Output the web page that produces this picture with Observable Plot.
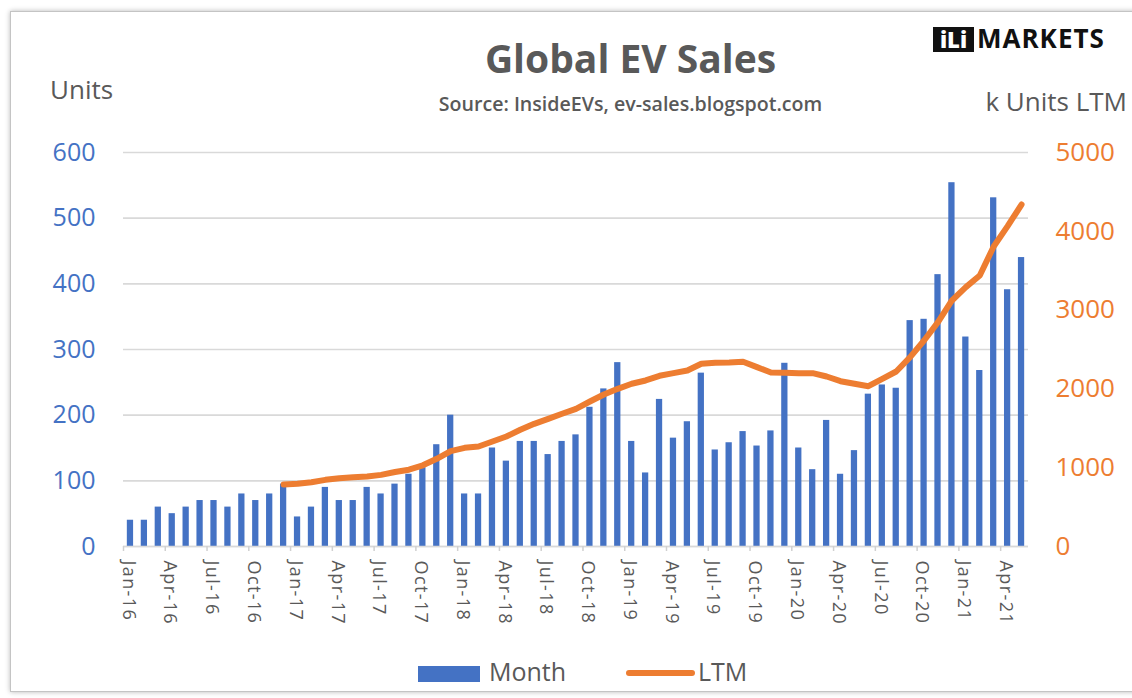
<!DOCTYPE html>
<html>
<head>
<meta charset="utf-8">
<script src="https://cdn.jsdelivr.net/npm/d3@7"></script>
<script src="https://cdn.jsdelivr.net/npm/@observablehq/plot@0.6"></script>
<style>
  body { margin: 0; background: #fff; font-family: "Open Sans", sans-serif; }
  #wrap { position: relative; width: 1132px; height: 698px; overflow: hidden; background: #fff; }
  #frame { position: absolute; left: 10px; top: 11px; width: 1140px; height: 679px; border: 1px solid #c4c4c4; box-shadow: 0 0 5px rgba(0,0,0,0.28); background: #fff; }
  .t { position: absolute; white-space: nowrap; color: #595959; line-height: 1; font-family: "Open Sans", sans-serif; }
  #chart { position: absolute; left: 0; top: 0; }
  .ev g[aria-label="x-axis tick label"] text { letter-spacing: 1.4px; }
</style>
</head>
<body>
<div id="wrap">
  <div id="frame"></div>
  <div id="chart"></div>
  <div class="t" style="left:0;width:1261px;text-align:center;top:38px;font-size:39px;font-weight:700;">Global EV Sales</div>
  <div class="t" style="left:0;width:1261px;text-align:center;top:94px;font-size:19.6px;font-weight:600;">Source: InsideEVs, ev-sales.blogspot.com</div>
  <div class="t" style="left:50px;top:76px;font-size:26px;font-weight:400;">Units</div>
  <div class="t" style="right:5px;top:88px;font-size:26px;font-weight:400;">k Units LTM</div>
  <div class="t" style="left:933px;top:27px;width:41px;height:25px;background:#111;color:#fff;font-size:22px;font-weight:800;text-align:center;line-height:25px;">iLi</div>
  <div class="t" style="left:977px;top:25px;font-size:26px;font-weight:700;color:#111;letter-spacing:1px;">MARKETS</div>
  <div style="position:absolute;left:418px;top:666px;width:62px;height:16px;background:#4472C4;"></div>
  <div class="t" style="left:489px;top:659px;font-size:25px;">Month</div>
  <div style="position:absolute;left:626px;top:670px;width:69px;height:6px;border-radius:3px;background:#ED7D31;"></div>
  <div class="t" style="left:698px;top:659px;font-size:25px;">LTM</div>
</div>
<script>
const months = [
  "Jan-16","Feb-16","Mar-16","Apr-16","May-16","Jun-16","Jul-16","Aug-16","Sep-16","Oct-16","Nov-16","Dec-16",
  "Jan-17","Feb-17","Mar-17","Apr-17","May-17","Jun-17","Jul-17","Aug-17","Sep-17","Oct-17","Nov-17","Dec-17",
  "Jan-18","Feb-18","Mar-18","Apr-18","May-18","Jun-18","Jul-18","Aug-18","Sep-18","Oct-18","Nov-18","Dec-18",
  "Jan-19","Feb-19","Mar-19","Apr-19","May-19","Jun-19","Jul-19","Aug-19","Sep-19","Oct-19","Nov-19","Dec-19",
  "Jan-20","Feb-20","Mar-20","Apr-20","May-20","Jun-20","Jul-20","Aug-20","Sep-20","Oct-20","Nov-20","Dec-20",
  "Jan-21","Feb-21","Mar-21","Apr-21","May-21"
];
// monthly sales, thousand units
const monthly = [
  40, 40, 60, 50, 60, 70, 70, 60, 80, 70, 80, 95,
  45, 60, 90, 70, 70, 90, 80, 95, 110, 120, 155, 200,
  80, 80, 150, 130, 160, 160, 140, 160, 170, 212, 240, 280,
  160, 112, 224, 165, 190, 264, 147, 158, 175, 153, 176, 279,
  150, 117, 192, 110, 146, 232, 246, 241, 344, 346, 414, 554,
  319, 268, 531, 391, 440
];
// last-twelve-months total, k units (right axis)
const ltm = [
  null, null, null, null, null, null, null, null, null, null, null, 787,
  795, 816, 846, 867, 880, 888, 909, 945, 975, 1030, 1113, 1210,
  1252, 1269, 1332, 1396, 1481, 1557, 1620, 1684, 1747, 1840, 1929, 2001,
  2065, 2107, 2166, 2200, 2234, 2320, 2333, 2335, 2344, 2276, 2208, 2204,
  2200, 2200, 2157, 2098, 2065, 2034, 2128, 2221, 2403, 2614, 2847, 3122,
  3291, 3439, 3807, 4065, 4340
];
const tickMonths = ["Jan-16","Apr-16","Jul-16","Oct-16","Jan-17","Apr-17","Jul-17","Oct-17","Jan-18","Apr-18","Jul-18","Oct-18","Jan-19","Apr-19","Jul-19","Oct-19","Jan-20","Apr-20","Jul-20","Oct-20","Jan-21","Apr-21"];
const leftTicks = [0, 100, 200, 300, 400, 500, 600];
const rightTicks = [0, 1000, 2000, 3000, 4000, 5000];

const leftMax = 600, rightMax = 5000;
const k = leftMax / rightMax;
const data = months.map((m, i) => ({month: m, units: monthly[i], ltm: ltm[i]}));
const lineData = data.filter(d => d.ltm != null);

const W = 1132, H = 640, mL = 123, mR = 104, mT = 152, mB = 94;
const step = (W - mL - mR) / months.length;

const chart = Plot.plot({
  width: W, height: H,
  marginLeft: mL, marginRight: mR, marginTop: mT, marginBottom: mB,
  className: "ev",
  style: {fontFamily: "Open Sans, sans-serif", background: "transparent", overflow: "visible", color: "#595959"},
  x: {type: "band", domain: months, paddingInner: 0.55, paddingOuter: 0.275, label: null},
  y: {domain: [0, leftMax], label: null},
  marks: [
    Plot.gridY(leftTicks, {stroke: "#d9d9d9", strokeOpacity: 1, strokeWidth: 1.6}),
    Plot.barY(data, {x: "month", y: "units", fill: "#4472C4"}),
    Plot.ruleY([0], {stroke: "#d9d9d9", strokeWidth: 1.6}),
    Plot.axisX(tickMonths, {tickSize: 5, tickFormat: () => "", stroke: "#d0d0d0", strokeWidth: 1.5, dx: -step / 2, label: null}),
    Plot.axisX(tickMonths, {tickSize: 0, tickPadding: 14, tickRotate: 90, fontSize: 18, fill: "#595959", dx: -2, label: null}),
    Plot.lineY(lineData, {x: "month", y: d => d.ltm * k, stroke: "#ED7D31", strokeWidth: 6, strokeLinecap: "round", strokeLinejoin: "round"}),
    Plot.axisY(leftTicks, {anchor: "left", tickSize: 0, tickPadding: 28, fontSize: 25, fill: "#4472C4", label: null}),
    Plot.axisY(rightTicks.map(v => v * k), {anchor: "right", tickSize: 0, tickPadding: 27, fontSize: 26, fill: "#ED7D31", tickFormat: d => String(Math.round(d / k)), label: null})
  ]
});
document.getElementById("chart").appendChild(chart);
</script>
</body>
</html>
